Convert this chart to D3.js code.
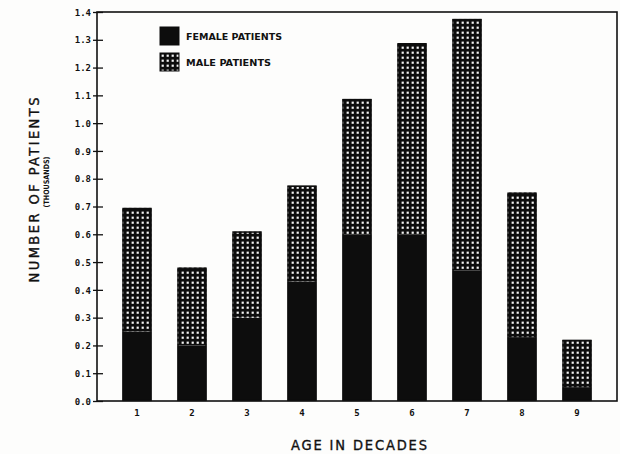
<!doctype html>
<html>
<head>
  <meta charset="utf-8">
  <style type="text/css">
    body { margin: 0; background: #fff; }
    svg { display: block; background: #fdfdfc; }
    .tick-label { font-family: "DejaVu Sans Mono", monospace; font-weight: bold; font-size: 9px; fill: #111; }
    .title { font-family: "DejaVu Sans Condensed", "DejaVu Sans", sans-serif; font-size: 14.5px; fill: #111; stroke: #111; stroke-width: 0.35px; }
    .legend text { font-family: "DejaVu Sans", sans-serif; font-weight: bold; font-size: 9px; fill: #111; }
  </style>
  <title>Patients by age</title>
</head>
<body>
<svg class="chart"></svg>

<script type="text/javascript" src="https://cdnjs.cloudflare.com/ajax/libs/d3/7.8.5/d3.min.js"></script>
<script type="text/javascript">

// values (thousands of patients)
var decades = ["1", "2", "3", "4", "5", "6", "7", "8", "9"];
var female  = [0.25, 0.20, 0.30, 0.43, 0.60, 0.60, 0.47, 0.23, 0.05];
var male    = [0.445, 0.28, 0.31, 0.345, 0.487, 0.688, 0.905, 0.52, 0.17];
var yTicks  = [0, 0.1, 0.2, 0.3, 0.4, 0.5, 0.6, 0.7, 0.8, 0.9, 1.0, 1.1, 1.2, 1.3, 1.4];

var width = 620,
    height = 454,
    frame = { left: 97, right: 617, top: 12, bottom: 401 };

var svg = d3.select(".chart")
  .attr("width", width)
  .attr("height", height);

// dotted grid pattern for the male part
var defs = svg.append("defs");
var pat = defs.append("pattern")
  .attr("id", "grid")
  .attr("patternUnits", "userSpaceOnUse")
  .attr("width", 5)
  .attr("height", 5);
pat.append("rect").attr("width", 5).attr("height", 5).attr("fill", "#0d0d0d");
pat.append("rect").attr("x", 1.6).attr("y", 1.6).attr("width", 2.2).attr("height", 2.2).attr("fill", "#f4f4f4");

var xScale = d3.scaleBand()
  .domain(decades)
  .range([109.5, 604.5])
  .paddingInner(0.47)
  .paddingOuter(0.235);

var yScale = d3.scaleLinear()
  .domain([0, 1.4])
  .range([frame.bottom, frame.top]);

var rows = decades.map(function(d, i) {
  return { decade: d, female: female[i], male: male[i] };
});

var stack = d3.stack().keys(["female", "male"])(rows);
var fills = { female: "#0d0d0d", male: "url(#grid)" };

var layers = svg.append("g").attr("class", "bars")
  .selectAll("g")
  .data(stack)
  .enter().append("g")
    .attr("fill", function(s) { return fills[s.key]; });

layers.selectAll("rect")
  .data(function(s) { return s; })
  .enter().append("rect")
    .attr("x", function(d) { return xScale(d.data.decade); })
    .attr("width", xScale.bandwidth())
    .attr("y", function(d) { return yScale(d[1]); })
    .attr("height", function(d) { return yScale(d[0]) - yScale(d[1]); });

// outline around each whole bar
svg.append("g")
  .selectAll("rect")
  .data(stack[1])
  .enter().append("rect")
    .attr("x", function(d) { return xScale(d.data.decade) + 0.6; })
    .attr("width", xScale.bandwidth() - 1.2)
    .attr("y", function(d) { return yScale(d[1]) + 0.6; })
    .attr("height", function(d) { return yScale(0) - yScale(d[1]) - 1.2; })
    .attr("fill", "none")
    .attr("stroke", "#0d0d0d")
    .attr("stroke-width", 1.4);

// frame
svg.append("rect")
  .attr("x", frame.left)
  .attr("y", frame.top)
  .attr("width", frame.right - frame.left)
  .attr("height", frame.bottom - frame.top)
  .attr("fill", "none")
  .attr("stroke", "#111")
  .attr("stroke-width", 1.6);

// y axis
var yAxis = svg.append("g")
  .attr("transform", "translate(" + frame.left + ",0)")
  .call(d3.axisLeft(yScale)
    .tickValues(yTicks)
    .tickSize(4)
    .tickPadding(4)
    .tickFormat(d3.format(".1f")));
yAxis.select(".domain").remove();
yAxis.selectAll(".tick line")
  .attr("x1", -4).attr("x2", 6)
  .attr("stroke", "#111").attr("stroke-width", 1.3);
yAxis.selectAll(".tick text")
  .attr("class", "tick-label")
  .attr("x", -6)
  .attr("dy", "0.35em");

// x axis labels
var xAxis = svg.append("g")
  .attr("transform", "translate(0," + frame.bottom + ")")
  .call(d3.axisBottom(xScale).tickSize(0).tickPadding(9));
xAxis.select(".domain").remove();
xAxis.selectAll(".tick text").attr("class", "tick-label");

// titles
svg.append("text")
  .attr("class", "title")
  .attr("x", 359)
  .attr("y", 450)
  .attr("text-anchor", "middle")
  .attr("textLength", 136)
  .text("AGE IN DECADES");

svg.append("text")
  .attr("class", "title")
  .attr("transform", "translate(38.5,190) rotate(-90)")
  .attr("text-anchor", "middle")
  .attr("textLength", 185)
  .text("NUMBER OF PATIENTS");

svg.append("text")
  .attr("class", "tick-label")
  .attr("transform", "translate(48.5,182) rotate(-90)")
  .attr("text-anchor", "middle")
  .attr("textLength", 51)
  .attr("lengthAdjust", "spacingAndGlyphs")
  .style("font-size", "7.5px")
  .style("font-family", "DejaVu Sans Condensed, DejaVu Sans, sans-serif")
  .text("(THOUSANDS)");

// legend
var legendItems = [
  { label: "FEMALE PATIENTS", key: "female", len: 96 },
  { label: "MALE PATIENTS", key: "male", len: 85 }
];
var legend = svg.append("g").attr("class", "legend")
  .selectAll("g")
  .data(legendItems)
  .enter().append("g")
    .attr("transform", function(d, i) { return "translate(160," + (27 + i * 26) + ")"; });

legend.append("rect")
  .attr("width", 19)
  .attr("height", 18)
  .attr("fill", function(d) { return fills[d.key]; })
  .attr("stroke", "#0d0d0d")
  .attr("stroke-width", 1);

legend.append("text")
  .attr("x", 26)
  .attr("y", 12.5)
  .attr("textLength", function(d) { return d.len; })
  .attr("lengthAdjust", "spacingAndGlyphs")
  .text(function(d) { return d.label; });

</script>
</body>
</html>
